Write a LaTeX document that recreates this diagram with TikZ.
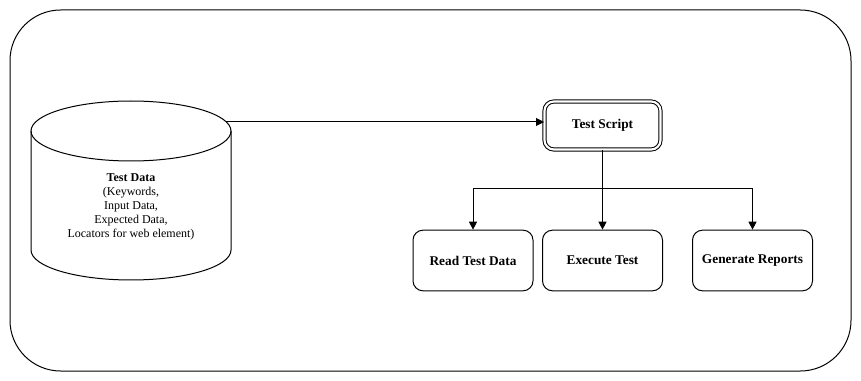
\documentclass[tikz,border=0pt]{standalone}
\usepackage{fontspec}
\setmainfont{Liberation Serif}
\usetikzlibrary{arrows.meta}

\tikzset{
  stepbox/.style={draw, rounded corners=7.5pt, minimum width=90pt, minimum height=45.5pt, font=\bfseries, align=center},
  scriptbox/.style={draw, double, double distance=1.6pt, rounded corners=7pt, minimum width=87pt, minimum height=36pt, font=\bfseries},
  flow/.style={-{Triangle[length=6pt,width=6pt]}}
}

\begin{document}
\begin{tikzpicture}[x=0.75pt, y=-0.75pt, font=\fontsize{9}{10.5}\selectfont, line width=0.75pt]
\useasboundingbox (0,0) rectangle (861,381);
\draw[rounded corners=38pt] (10,10) rectangle (851,371);

% cylinder for the data
\draw (31,131) -- (31,250) arc[start angle=180, end angle=0, x radius=100, y radius=30] -- (231,131);
\draw (131,131) ellipse [x radius=100, y radius=30];
\node[align=center] (data) at (131,207) {\textbf{Test Data}\\(Keywords,\\Input Data,\\Expected Data,\\Locators for web element)};
\coordinate (dataout) at (226,122);

\node[scriptbox] (script) at (602.5,125.5) {Test Script};
\node[stepbox] (read) at (473,260.5) {Read Test Data};
\node[stepbox] (exec) at (602.5,260.5) {Execute Test};
\node[stepbox] (report) at (752.5,260.5) {Generate Reports};

\draw[flow] (dataout) -- (dataout -| script.west);
\coordinate (split) at (602.5,189);
\draw (script.south) -- (split);
\draw[flow] (split) -| (read.north);
\draw[flow] (split) -- (exec.north);
\draw[flow] (split) -| (report.north);
\end{tikzpicture}
\end{document}
